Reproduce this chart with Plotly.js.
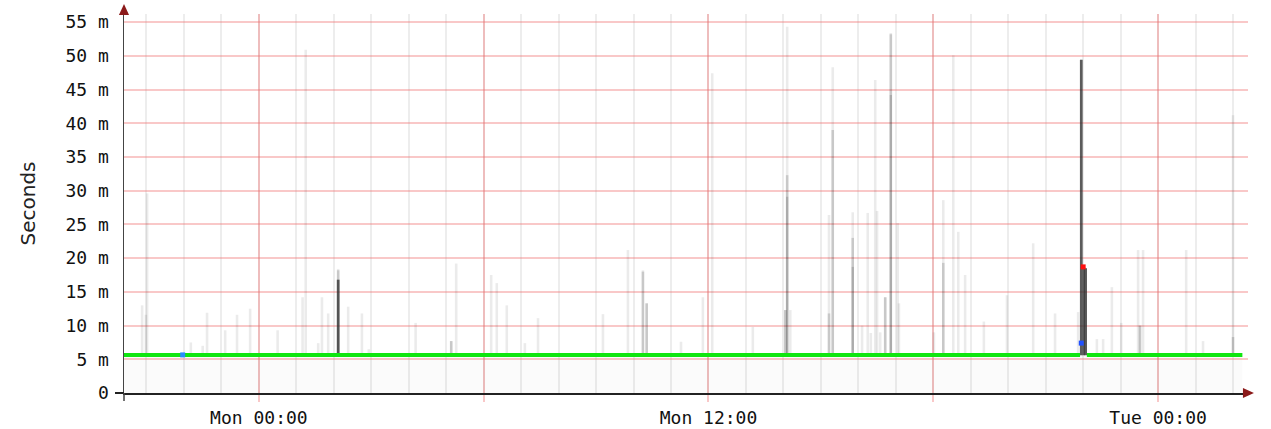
<!DOCTYPE html>
<html>
<head>
<meta charset="utf-8">
<script src="https://cdn.plot.ly/plotly-3.0.1.min.js"></script>
<style>html,body{margin:0;padding:0;background:#fff;}#chart{width:1271px;height:429px;}</style>
</head>
<body>
<div id="chart"></div>
<script>
// ---- data ----
const smokeTimes = [
  '2024-01-07 20:53','2024-01-07 20:59','2024-01-07 21:01','2024-01-07 22:11','2024-01-07 22:30',
  '2024-01-07 22:37','2024-01-07 23:06','2024-01-07 23:25','2024-01-07 23:46','2024-01-08 00:30',
  '2024-01-08 01:10','2024-01-08 01:15','2024-01-08 01:35','2024-01-08 01:41','2024-01-08 01:51',
  '2024-01-08 02:07','2024-01-08 02:23','2024-01-08 02:45','2024-01-08 02:56','2024-01-08 04:11',
  '2024-01-08 05:08','2024-01-08 05:16','2024-01-08 06:12','2024-01-08 06:21','2024-01-08 06:37',
  '2024-01-08 07:06','2024-01-08 07:27','2024-01-08 09:11','2024-01-08 09:51','2024-01-08 10:15',
  '2024-01-08 10:21','2024-01-08 11:16','2024-01-08 11:51','2024-01-08 12:06','2024-01-08 13:11',
  '2024-01-08 14:03','2024-01-08 14:06','2024-01-08 14:11','2024-01-08 15:13','2024-01-08 15:19',
  '2024-01-08 15:51','2024-01-08 16:06','2024-01-08 16:15','2024-01-08 16:20','2024-01-08 16:27',
  '2024-01-08 16:30','2024-01-08 16:35','2024-01-08 16:43','2024-01-08 16:52','2024-01-08 17:03',
  '2024-01-08 17:05','2024-01-08 18:01','2024-01-08 18:16','2024-01-08 18:32','2024-01-08 18:40',
  '2024-01-08 18:51','2024-01-08 19:21','2024-01-08 19:58','2024-01-08 20:40','2024-01-08 21:15',
  '2024-01-08 21:52','2024-01-08 21:57','2024-01-08 22:01','2024-01-08 22:04','2024-01-08 22:22',
  '2024-01-08 22:32','2024-01-08 22:46','2024-01-08 23:01','2024-01-08 23:28','2024-01-08 23:31',
  '2024-01-08 23:36','2024-01-09 00:45','2024-01-09 01:12','2024-01-09 02:00'
];
// outermost (lightest) smoke top, ms
const smokeHigh = [
  13.0,11.6,29.6,7.5,7.0,
  11.9,9.3,11.6,12.5,9.3,
  14.2,50.9,7.4,14.2,11.8,
  18.4,12.8,11.8,6.5,10.4,
  7.7,19.2,17.5,16.3,13.0,
  7.4,11.1,11.7,21.2,18.2,
  13.3,7.6,14.2,47.4,9.8,
  12.3,54.3,12.3,26.4,48.3,
  26.8,10.0,26.7,8.9,46.4,
  27.0,9.0,14.2,53.4,25.2,
  13.3,9.0,28.6,50.1,23.9,
  17.5,10.6,14.5,22.2,11.8,
  12.0,49.4,18.7,18.5,8.0,
  8.0,15.7,10.4,21.2,10.0,
  21.2,21.2,7.7,41.2
];
// middle smoke top, ms (null = none)
const smokeMid = [
  null,null,null,null,null,
  null,null,null,null,null,
  null,null,null,null,null,
  18.2,null,null,null,null,
  7.7,null,null,null,null,
  null,null,null,null,18.0,
  13.3,null,null,null,null,
  12.3,32.3,null,11.8,39.0,
  23.0,null,null,null,null,
  null,null,14.2,53.2,null,
  null,null,19.3,null,null,
  null,null,null,null,null,
  null,null,null,null,null,
  null,null,null,null,10.0,
  null,null,null,8.3
];
// deeper smoke top, ms
const smokeDeep = [
  null,null,null,null,null,
  null,null,null,null,null,
  null,null,null,null,null,
  null,null,null,null,null,
  null,null,null,null,null,
  null,null,null,null,null,
  null,null,null,null,null,
  null,29.1,null,null,null,
  18.7,null,null,null,null,
  null,null,null,44.2,null,
  null,null,null,null,null,
  null,null,null,null,null,
  null,null,null,null,null,
  null,null,null,null,null,
  null,null,null,null
];
// darkest core smoke top, ms
const smokeCore = [
  null,null,null,null,null,
  null,null,null,null,null,
  null,null,null,null,null,
  16.8,null,null,null,null,
  null,null,null,null,null,
  null,null,null,null,null,
  null,null,null,null,null,
  null,null,null,null,null,
  null,null,null,null,null,
  null,null,null,null,null,
  null,null,null,null,null,
  null,null,null,null,null,
  null,49.4,18.7,18.5,null,
  null,null,null,null,null,
  null,null,null,null
];
const smokeBase = 5.6;

// median round-trip time (green = no loss)
const medianTimes  = ['2024-01-07 20:24','2024-01-08 06:00','2024-01-08 21:55','2024-01-08 21:56','2024-01-08 22:06','2024-01-09 02:15'];
const medianValues = [5.65, 5.65, 5.65, null, 5.65, 5.65];

// median samples with packet loss
const lossTimes  = ['2024-01-07 21:58','2024-01-08 21:57','2024-01-08 22:00'];
const lossValues = [5.65, 7.4, 18.7];
const lossColors = ['#2a8cff','#2050ff','#ff1010'];

// axis ticks
const xTickVals  = ['2024-01-08 00:00','2024-01-08 06:00','2024-01-08 12:00','2024-01-08 18:00','2024-01-09 00:00'];
const xTickText  = ['Mon 00:00','','Mon 12:00','','Tue 00:00'];
const yTickVals  = [0,5,10,15,20,25,30,35,40,45,50,55];
const yTickText  = ['0','5 m','10 m','15 m','20 m','25 m','30 m','35 m','40 m','45 m','50 m','55 m'];
const xRange = ['2024-01-07 20:24','2024-01-09 02:24'];

// ---- traces ----
function layer(tops, color, width, name) {
  const xs = [], ys = [];
  tops.forEach((v, i) => { if (v !== null) { xs.push(smokeTimes[i]); ys.push(v - smokeBase); } });
  return {type:'bar', x:xs, y:ys, base:smokeBase, width:width, name:name,
          marker:{color:color, line:{width:0}}, hoverinfo:'skip', showlegend:false};
}

const traces = [
  {type:'scatter', mode:'none', x:medianTimes, y:medianValues, fill:'tozeroy',
   fillcolor:'rgba(0,0,0,0.015)', hoverinfo:'skip', showlegend:false, connectgaps:false},
  layer(smokeHigh, 'rgba(0,0,0,0.08)', 250000, 'smoke'),
  layer(smokeMid,  'rgba(0,0,0,0.15)', 250000, 'smoke mid'),
  layer(smokeDeep, 'rgba(0,0,0,0.14)', 230000, 'smoke deep'),
  layer(smokeCore, 'rgba(50,50,50,0.78)', 260000, 'smoke core'),
  {type:'scatter', mode:'lines', x:medianTimes, y:medianValues, connectgaps:false,
   line:{color:'#10e610', width:4}, hoverinfo:'skip', showlegend:false},
  {type:'scatter', mode:'markers', x:lossTimes, y:lossValues,
   marker:{color:lossColors, size:5, symbol:'square'}, hoverinfo:'skip', showlegend:false}
];

const redGrid = 'rgba(240,110,110,0.38)';
const layout = {
  width:1271, height:429,
  margin:{l:124, r:23, t:14, b:36, pad:0},
  paper_bgcolor:'#ffffff', plot_bgcolor:'#ffffff',
  barmode:'overlay', showlegend:false,
  xaxis:{
    type:'date', range:xRange, tickmode:'array', tickvals:xTickVals, ticktext:xTickText,
    showgrid:true, gridcolor:redGrid, gridwidth:2,
    ticks:'outside', ticklen:7, tickcolor:redGrid, tickwidth:2,
    tickfont:{family:'DejaVu Sans Mono', size:18, color:'#111'},
    showline:true, linecolor:'#222', linewidth:2, zeroline:false,
    minor:{tickmode:'linear', tick0:'2024-01-08 00:00', dtick:3600000,
           showgrid:true, gridcolor:'rgba(0,0,0,0.07)', gridwidth:2, ticks:''}
  },
  yaxis:{
    range:[0,56.2], tickmode:'array', tickvals:yTickVals, ticktext:yTickText,
    showgrid:true, gridcolor:redGrid, gridwidth:2, ticks:'', ticklabelstandoff:10,
    tickfont:{family:'DejaVu Sans Mono', size:18, color:'#111'},
    showline:true, linecolor:'#444', linewidth:1.5, zeroline:false,
    title:{text:'Seconds', font:{family:'DejaVu Sans', size:20, color:'#222'}, standoff:24}
  },
  shapes:[
    // axis arrow heads
    {type:'path', xref:'paper', yref:'paper', path:'M -0.0045 0.9974 L 0.0045 0.9974 L 0 1.0264 Z',
     fillcolor:'#8b1a1a', line:{width:0}},
    {type:'path', xref:'paper', yref:'paper', path:'M 0.9955 0.0132 L 0.9955 -0.0132 L 1.0053 0 Z',
     fillcolor:'#8b1a1a', line:{width:0}},
    // short axis overhangs
    {type:'line', xref:'paper', yref:'paper', x0:-0.008, x1:0, y0:0, y1:0, line:{color:'#222', width:2}},
    {type:'line', xref:'paper', yref:'paper', x0:0, x1:0, y0:0, y1:-0.021, line:{color:'#444', width:1.5}}
  ]
};

Plotly.newPlot('chart', traces, layout, {staticPlot:true, displayModeBar:false});
</script>
</body>
</html>
